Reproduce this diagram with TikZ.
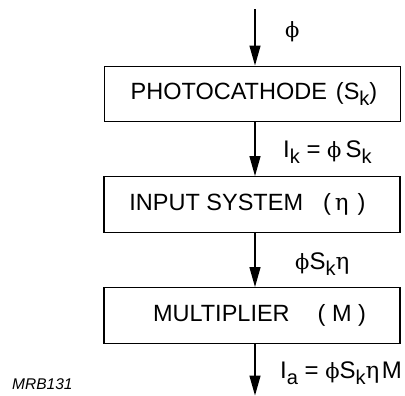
\documentclass[tikz,border=0pt]{standalone}
\usepackage{fontspec}
\setmainfont{Liberation Sans}
\newfontfamily\grkphi{DejaVu Serif}
\usetikzlibrary{arrows.meta}
\newcommand{\ph}{{\grkphi\fontsize{21bp}{21bp}\selectfont ϕ}}
\newcommand{\et}{{\grkphi\fontsize{23bp}{23bp}\selectfont η}}
\newcommand{\sbk}[1]{\raisebox{-6.5bp}{\fontsize{20bp}{20bp}\selectfont #1}}
\begin{document}
\begin{tikzpicture}[x=1bp,y=-1bp,
  blk/.style={draw, line width=1.4bp, minimum width=296bp, minimum height=55.5bp, inner sep=0pt, font=\fontsize{23.5bp}{28bp}\selectfont},
  flow/.style={-{Triangle[length=20bp,width=11bp]}, line width=1.4bp},
  lbl/.style={anchor=base west, inner sep=0pt, font=\fontsize{24bp}{28bp}\selectfont},
  tag/.style={anchor=base west, inner sep=0pt, font=\fontsize{15.5bp}{18bp}\selectfont\itshape}]
\useasboundingbox (0,0) rectangle (405,396);
\node[blk] (pc) at (252.5,94) {\hspace*{3bp}PHOTOCATHODE\hspace{9bp}(S\sbk{k})};
\node[blk] (is) at (252,204.5) {\hspace*{-9bp}INPUT SYSTEM\hspace{20bp}(\hspace{4bp}\et\hspace{9bp})};
\node[blk] (mu) at (252,315.5) {\hspace*{15bp}MULTIPLIER\hspace{28bp}( M )};
\coordinate (in) at (255,9);
\coordinate (out) at (255,395.5);
\draw[flow] (in) -- (in |- pc.north);
\draw[flow] (in |- pc.south) -- (in |- is.north);
\draw[flow] (in |- is.south) -- (in |- mu.north);
\draw[flow] (in |- mu.south) -- (out);
\node[lbl] (phi0) at (285,37) {\ph};
\node[lbl] (ik) at (283,157) {I\sbk{k} = \ph\hspace{4bp}S\sbk{k}};
\node[lbl] (psn) at (295,269) {\ph S\sbk{k}\et};
\node[lbl] (ia) at (280,378) {I\sbk{a} = \ph S\sbk{k}\et\hspace{2.5bp}M};
\node[tag] (mrb) at (12,389) {MRB131};
\end{tikzpicture}
\end{document}
